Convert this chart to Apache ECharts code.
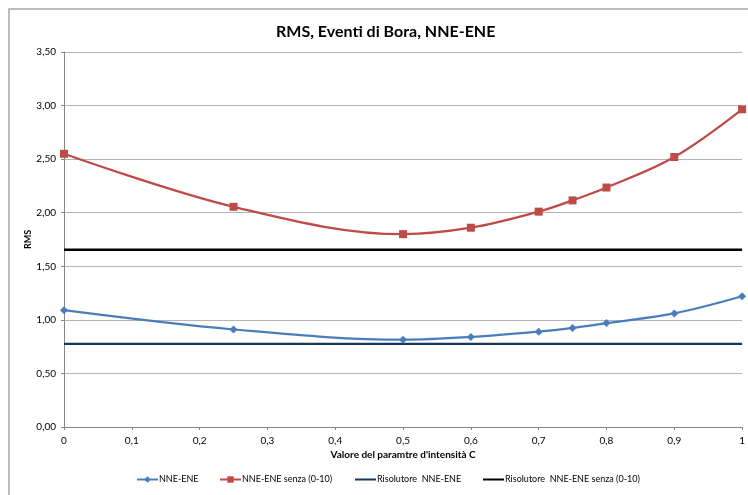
<!DOCTYPE html>
<html>
<head>
<meta charset="utf-8">
<script src="https://cdn.jsdelivr.net/npm/echarts@6/dist/echarts.min.js"></script>
<style>html,body{margin:0;padding:0;background:#fff;}#c{width:748px;height:495px;}</style>
</head>
<body>
<div id="c"></div>
<script>
var xValues = [0, 0.25, 0.5, 0.6, 0.7, 0.75, 0.8, 0.9, 1.0];
var nneEne = [1.09, 0.91, 0.815, 0.84, 0.89, 0.925, 0.97, 1.06, 1.22];
var nneEneSenza = [2.55, 2.055, 1.80, 1.86, 2.01, 2.115, 2.235, 2.52, 2.965];
var risolutoreNneEne = 0.775;
var risolutoreSenza = 1.655;
var seriesNames = ["NNE-ENE", "NNE-ENE senza (0-10)", "Risolutore  NNE-ENE", "Risolutore  NNE-ENE senza (0-10)"];
var titleText = "RMS, Eventi di Bora, NNE-ENE";
var xAxisName = "Valore del paramtre d'intensità C";
var yAxisName = "RMS";

function pairs(xs, ys){ return xs.map(function(x,i){ return [x, ys[i]]; }); }
var font = "Lato, 'Open Sans', sans-serif";
var legendLefts = [131, 214, 349, 477];
var legends = seriesNames.map(function(n, i){
  return {
    bottom: 6, left: legendLefts[i], itemWidth: 21, itemHeight: 8, itemGap: 0,
    textStyle: {fontFamily: font, fontSize: 9, color:'#000', padding:[0,0,0,-4]},
    data: [n]
  };
});
var chart = echarts.init(document.getElementById('c'));
chart.setOption({
  animation: false,
  textStyle: {fontFamily: font},
  graphic: [{type:'rect', shape:{x:9, y:9, width:760, height:500}, style:{fill:'none', stroke:'#a8a8a8', lineWidth:1.5}, silent:true}],
  title: {text: titleText, left: 271, top: 19, textStyle:{fontFamily: font, fontSize: 16, fontWeight:'bold', color:'#000'}},
  grid: {left: 64, right: 4, top: 52, bottom: 68},
  legend: legends,
  xAxis: {
    type: 'value', min: 0, max: 1, interval: 0.1,
    name: xAxisName, nameLocation: 'middle', nameGap: 23, nameMoveOverlap: false,
    nameTextStyle: {fontFamily: font, fontSize: 10, fontWeight: 'bold', color:'#000'},
    axisLine: {lineStyle:{color:'#868686'}},
    axisTick: {show:true, length:3, lineStyle:{color:'#868686'}},
    axisLabel: {fontFamily: font, fontSize: 10, color:'#000', margin: 9,
      formatter: function(v){ if (Math.abs(v)<1e-9) return '0'; if (Math.abs(v-1)<1e-9) return '1'; return v.toFixed(1).replace('.', ','); }},
    splitLine: {show:false}
  },
  yAxis: {
    type: 'value', min: 0, max: 3.5, interval: 0.5,
    name: yAxisName, nameLocation: 'middle', nameGap: 31, nameRotate: 90, nameMoveOverlap: false,
    nameTextStyle: {fontFamily: font, fontSize: 9, fontWeight: 'bold', color:'#000'},
    axisLine: {show:true, lineStyle:{color:'#868686'}},
    axisTick: {show:true, length:3, lineStyle:{color:'#868686'}},
    axisLabel: {fontFamily: font, fontSize: 10, color:'#000', margin: 8,
      formatter: function(v){ return v.toFixed(2).replace('.', ','); }},
    splitLine: {show:true, lineStyle:{color:'#b4b4b4', width:1}}
  },
  series: [
    {name: seriesNames[0], type:'line', smooth:0.35, data: pairs(xValues, nneEne),
     symbol:'diamond', symbolSize:8, lineStyle:{color:'#4a7ebb', width:2.25}, itemStyle:{color:'#4a7ebb'}},
    {name: seriesNames[1], type:'line', smooth:0.35, data: pairs(xValues, nneEneSenza),
     symbol:'rect', symbolSize:8, lineStyle:{color:'#be4b48', width:2.25}, itemStyle:{color:'#be4b48'}},
    {name: seriesNames[2], type:'line', data: [[0, risolutoreNneEne],[1, risolutoreNneEne]],
     symbol:'none', lineStyle:{color:'#17375e', width:2.25}, itemStyle:{color:'#17375e', opacity:0}},
    {name: seriesNames[3], type:'line', data: [[0, risolutoreSenza],[1, risolutoreSenza]],
     symbol:'none', lineStyle:{color:'#000000', width:2.5}, itemStyle:{color:'#000000', opacity:0}}
  ]
});
</script>
</body>
</html>
